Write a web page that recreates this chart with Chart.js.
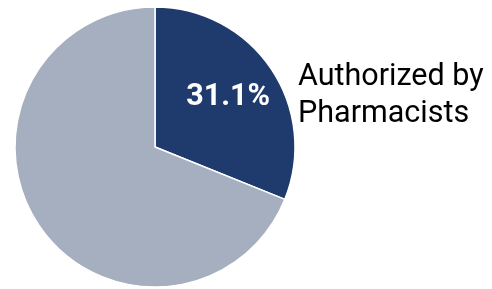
<!DOCTYPE html>
<html>
<head>
<meta charset="utf-8">
<script src="https://cdn.jsdelivr.net/npm/chart.js@4/dist/chart.umd.min.js"></script>
<style>
  html, body { margin: 0; padding: 0; background: #ffffff; }
  #wrap { width: 492px; height: 289px; position: relative; }
</style>
</head>
<body>
<div id="wrap"><canvas id="c" width="492" height="289"></canvas></div>
<script>
const categories = ['Authorized by Pharmacists', 'Other'];
const values = [31.1, 68.9];
const colors = ['#1f3a6d', '#a6afc0'];
const insideLabels = ['31.1%', ''];
const outsideLabelLines = [['Authorized by', 'Pharmacists'], []];

const labelPlugin = {
  id: 'sliceLabels',
  afterDatasetsDraw(chart) {
    const ctx = chart.ctx;
    const meta = chart.getDatasetMeta(0);
    meta.data.forEach((arc, i) => {
      const p = arc.getProps(['x', 'y', 'startAngle', 'endAngle', 'outerRadius'], true);
      const mid = (p.startAngle + p.endAngle) / 2;
      ctx.save();
      if (insideLabels[i]) {
        const r = p.outerRadius * 0.63;
        ctx.font = 'bold 30.5px Roboto';
        ctx.fillStyle = '#ffffff';
        ctx.textAlign = 'center';
        ctx.textBaseline = 'middle';
        ctx.fillText(insideLabels[i], p.x + Math.cos(mid) * r, p.y + Math.sin(mid) * r);
      }
      const lines = outsideLabelLines[i];
      if (lines.length) {
        ctx.font = '30.5px Roboto';
        ctx.fillStyle = '#000000';
        ctx.textAlign = 'left';
        ctx.textBaseline = 'alphabetic';
        const x = p.x + p.outerRadius + 3;
        const y0 = p.y - 62;
        lines.forEach((t, k) => ctx.fillText(t, x, y0 + k * 37));
      }
      ctx.restore();
    });
  }
};

new Chart(document.getElementById('c'), {
  type: 'pie',
  data: {
    labels: categories,
    datasets: [{
      data: values,
      backgroundColor: colors,
      borderColor: '#ffffff',
      borderWidth: 1.5
    }]
  },
  options: {
    responsive: false,
    animation: false,
    layout: { padding: { left: 14.25, right: 196.25, top: 6.25, bottom: 1.25 } },
    plugins: { legend: { display: false }, tooltip: { enabled: false } }
  },
  plugins: [labelPlugin]
});
</script>
</body>
</html>
